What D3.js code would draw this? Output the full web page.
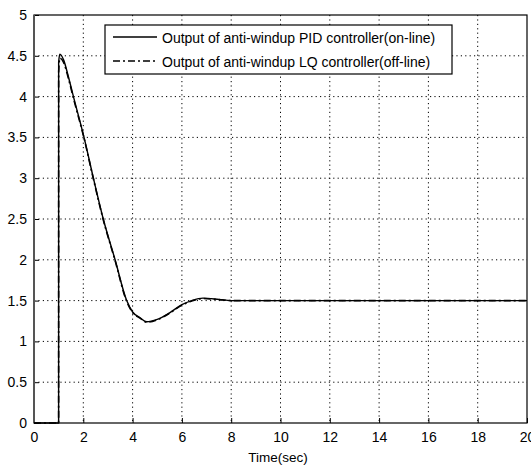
<!DOCTYPE html>
<html lang="en">
<head>
<meta charset="UTF-8" />
<title>Anti-windup output</title>
<style>
  body { margin: 0; background: #fff; }
  text { font-family: "Liberation Sans", Arial, sans-serif; fill: #000; }
  .grid line { stroke: #000; stroke-dasharray: 1.2,3.2; stroke-width: 1; }
</style>
</head>
<body>
<script src="https://cdn.jsdelivr.net/npm/d3@7/dist/d3.min.js"></script>
<script>
// data
var pidTime = [0, 0.999, 1.0, 1.05, 1.2, 1.39, 1.6, 2.03, 2.41, 2.81, 3.29, 3.76, 4.0, 4.3, 4.57, 5.0, 5.5, 6.0, 6.4, 6.85, 7.5, 8.0, 10, 14, 20];
var pidOut  = [0, 0, 4.42, 4.52, 4.45, 4.25, 4.0, 3.5, 3.0, 2.5, 2.0, 1.5, 1.36, 1.29, 1.24, 1.27, 1.35, 1.45, 1.50, 1.53, 1.515, 1.50, 1.50, 1.50, 1.50];
var lqTime  = [0, 0.999, 1.0, 1.05, 1.2, 1.39, 1.6, 2.03, 2.41, 2.81, 3.29, 3.76, 4.0, 4.3, 4.57, 5.0, 5.5, 6.0, 6.4, 6.85, 7.5, 8.0, 10, 14, 20];
var lqOut   = [0, 0, 4.30, 4.47, 4.42, 4.23, 3.98, 3.49, 2.99, 2.49, 1.99, 1.49, 1.355, 1.285, 1.235, 1.265, 1.345, 1.445, 1.495, 1.525, 1.512, 1.50, 1.50, 1.50, 1.50];
var xTicks = [0, 2, 4, 6, 8, 10, 12, 14, 16, 18, 20];
var yTicks = [0, 0.5, 1, 1.5, 2, 2.5, 3, 3.5, 4, 4.5, 5];
var legendLabels = ["Output of anti-windup PID controller(on-line)", "Output of anti-windup LQ controller(off-line)"];

var W = 531, H = 466;
var margin = {top: 15, right: 4, bottom: 43, left: 34};
var w = W - margin.left - margin.right,
    h = H - margin.top - margin.bottom;

var svg = d3.select("body").append("svg")
  .attr("width", W)
  .attr("height", H);

var g = svg.append("g").attr("transform", "translate(" + margin.left + "," + margin.top + ")");

var x = d3.scaleLinear().domain([0, 20]).range([0, w]);
var y = d3.scaleLinear().domain([0, 5]).range([h, 0]);

// grid
var grid = g.append("g").attr("class", "grid");
grid.selectAll(".gx").data(xTicks.slice(1, -1)).enter().append("line")
  .attr("x1", function(d) { return x(d); }).attr("x2", function(d) { return x(d); })
  .attr("y1", 0).attr("y2", h);
grid.selectAll(".gy").data(yTicks.slice(1, -1)).enter().append("line")
  .attr("y1", function(d) { return y(d); }).attr("y2", function(d) { return y(d); })
  .attr("x1", 0).attr("x2", w);

// axes (ticks pointing inward like matlab)
var xAxis = g.append("g").attr("transform", "translate(0," + h + ")")
  .call(d3.axisBottom(x).tickValues(xTicks).tickSizeInner(-5).tickSizeOuter(0).tickPadding(9).tickFormat(d3.format("d")));
var yAxis = g.append("g")
  .call(d3.axisLeft(y).tickValues(yTicks).tickSizeInner(-5).tickSizeOuter(0).tickPadding(7).tickFormat(function(d) { return d; }));
[xAxis, yAxis].forEach(function(a) {
  a.selectAll("text").style("font-size", "14px").style("font-family", "\"Liberation Sans\", Arial, sans-serif");
  a.select(".domain").remove();
  a.selectAll("line").attr("stroke", "#000");
});

// box
g.append("rect").attr("width", w).attr("height", h)
  .attr("fill", "none").attr("stroke", "#000").attr("stroke-width", 1.2);
g.append("line").attr("x1", 0).attr("x2", 0).attr("y1", 0).attr("y2", h)
  .attr("stroke", "#555").attr("stroke-width", 2);

// lines
var line = d3.line()
  .x(function(d) { return x(d[0]); })
  .y(function(d) { return y(d[1]); })
  .curve(d3.curveMonotoneX);

g.append("path")
  .datum(d3.zip(lqTime, lqOut))
  .attr("fill", "none").attr("stroke", "#000").attr("stroke-width", 1.6)
  .attr("stroke-dasharray", "7,3,2,3")
  .attr("d", line);
g.append("path")
  .datum(d3.zip(pidTime, pidOut))
  .attr("fill", "none").attr("stroke", "#000").attr("stroke-width", 1.4)
  .attr("d", line);

// legend
var leg = svg.append("g").attr("transform", "translate(105,25)");
leg.append("rect").attr("width", 347).attr("height", 49)
  .attr("fill", "#fff").attr("stroke", "#000").attr("stroke-width", 1.2);
var rows = leg.selectAll(".row").data(legendLabels).enter().append("g")
  .attr("transform", function(d, i) { return "translate(0," + (12 + i * 24) + ")"; });
rows.append("line").attr("x1", 8).attr("x2", 52).attr("y1", 0).attr("y2", 0)
  .attr("stroke", "#000").attr("stroke-width", 1.3)
  .attr("stroke-dasharray", function(d, i) { return i ? "7,3,2,3" : null; });
rows.append("text").attr("x", 57).attr("y", 1).attr("dy", "0.35em")
  .style("font-size", "14px")
  .text(function(d) { return d; });

// x label
svg.append("text").attr("x", 278).attr("y", 457).attr("dy", "0.35em")
  .attr("text-anchor", "middle").style("font-size", "13.5px")
  .text("Time(sec)");
</script>
</body>
</html>
